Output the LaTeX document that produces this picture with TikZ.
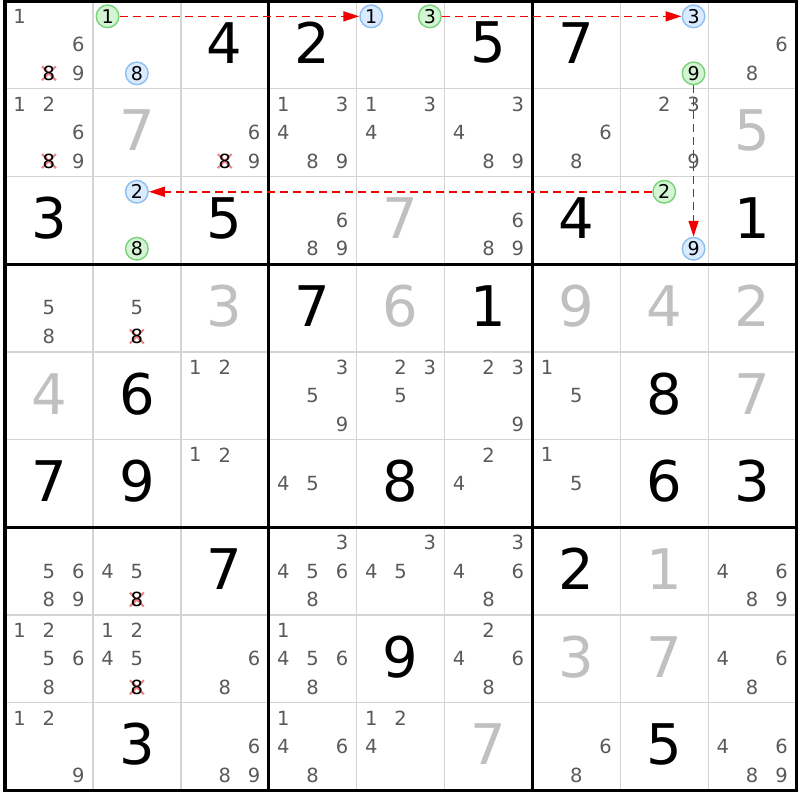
\documentclass[tikz,border=0pt]{standalone}
\usepackage{fontspec}
\setmainfont{DejaVu Sans}
\usetikzlibrary{arrows.meta}
\definecolor{candc}{RGB}{90,90,90}
\definecolor{solvc}{RGB}{192,192,192}
\definecolor{thinc}{RGB}{212,212,212}
\definecolor{gfill}{RGB}{212,245,212}
\definecolor{gdraw}{RGB}{120,210,120}
\definecolor{bfill}{RGB}{218,234,255}
\definecolor{bdraw}{RGB}{140,190,240}
\definecolor{crossc}{RGB}{240,130,130}
\definecolor{linkc}{RGB}{240,0,0}
\newcommand\cellpos[2]{\pgfmathsetmacro\sdx{5+(#2-0.5)*87.9}\pgfmathsetmacro\sdy{1+(#1-0.5)*87.7}}
\newcommand\candpos[3]{\pgfmathsetmacro\sdx{5+(#2-0.5)*87.9+(mod(#3-1,3)-1)*29.3}\pgfmathsetmacro\sdy{1+(#1-0.5)*87.7+(floor((#3-1)/3)-1)*28.5}}
\newcommand\given[3]{\cellpos{#1}{#2}\node[givenst] (v#1#2) at (\sdx,\sdy-2) {#3};}
\newcommand\solved[3]{\cellpos{#1}{#2}\node[solvst] (v#1#2) at (\sdx,\sdy-2) {#3};}
\newcommand\cands[3]{\foreach \dd in {#3}{\candpos{#1}{#2}{\dd}\node[candst] (k#1#2\dd) at (\sdx,\sdy) {\dd};}}
\newcommand\elim[3]{\candpos{#1}{#2}{#3}\draw[crossst] (\sdx-7,\sdy-7) -- (\sdx+7,\sdy+7) (\sdx-7,\sdy+7) -- (\sdx+7,\sdy-7);\node[elimst] (k#1#2#3) at (\sdx,\sdy) {#3};}
\newcommand\circg[3]{\candpos{#1}{#2}{#3}\node[gcirc] (gc#1#2#3) at (\sdx,\sdy) {#3};}
\newcommand\circb[3]{\candpos{#1}{#2}{#3}\node[bcirc] (bc#1#2#3) at (\sdx,\sdy) {#3};}
\begin{document}
\begin{tikzpicture}[x=1pt,y=-1pt,
  givenst/.style={font=\fontsize{56}{56}\selectfont,text=black,inner sep=0pt},
  solvst/.style={font=\fontsize{56}{56}\selectfont,text=solvc,inner sep=0pt},
  candst/.style={font=\fontsize{19.5}{19.5}\selectfont,text=candc,inner sep=0pt},
  elimst/.style={font=\fontsize{19.5}{19.5}\selectfont,text=black,inner sep=0pt},
  crossst/.style={draw=crossc,line width=2pt},
  circbase/.style={circle,line width=1.4pt,minimum size=22.6pt,inner sep=0pt,font=\fontsize{19}{19}\selectfont,text=black},
  gcirc/.style={circbase,draw=gdraw,fill=gfill},
  bcirc/.style={circbase,draw=bdraw,fill=bfill},
  thinst/.style={draw=thinc,line width=1.4pt},
  thickst/.style={draw=black,line width=3.2pt},
  link/.style={draw=linkc,line width=1.6pt,dash pattern=on 8pt off 5pt,-{Triangle[length=16pt,width=10pt]}}]
\useasboundingbox (0,0) rectangle (800,800);
\fill[white] (0,0) rectangle (800,800);
% grid
\foreach \i in {1,2,4,5,7,8}{
  \draw[thinst] ({5+\i*87.9},1) -- ({5+\i*87.9},{1+9*87.7});
  \draw[thinst] (5,{1+\i*87.7}) -- ({5+9*87.9},{1+\i*87.7});
}
\foreach \i in {3,6}{
  \draw[thickst] ({5+\i*87.9},1) -- ({5+\i*87.9},{1+9*87.7});
  \draw[thickst] (5,{1+\i*87.7}) -- ({5+9*87.9},{1+\i*87.7});
}
\draw[thickst] (5,1) rectangle ({5+9*87.9},{1+9*87.7});
% row 1
\cands{1}{1}{1,6,9}\elim{1}{1}{8}
\circg{1}{2}{1}\circb{1}{2}{8}
\given{1}{3}{4}\given{1}{4}{2}
\circb{1}{5}{1}\circg{1}{5}{3}
\given{1}{6}{5}\given{1}{7}{7}
\circb{1}{8}{3}\circg{1}{8}{9}
\cands{1}{9}{6,8}
% row 2
\cands{2}{1}{1,2,6,9}\elim{2}{1}{8}
\solved{2}{2}{7}
\cands{2}{3}{6,9}\elim{2}{3}{8}
\cands{2}{4}{1,3,4,8,9}
\cands{2}{5}{1,3,4}
\cands{2}{6}{3,4,8,9}
\cands{2}{7}{6,8}
\cands{2}{8}{2,3,9}
\solved{2}{9}{5}
% row 3
\given{3}{1}{3}
\circb{3}{2}{2}\circg{3}{2}{8}
\given{3}{3}{5}
\cands{3}{4}{6,8,9}
\solved{3}{5}{7}
\cands{3}{6}{6,8,9}
\given{3}{7}{4}
\circg{3}{8}{2}\circb{3}{8}{9}
\given{3}{9}{1}
% row 4
\cands{4}{1}{5,8}
\cands{4}{2}{5}\elim{4}{2}{8}
\solved{4}{3}{3}\given{4}{4}{7}\solved{4}{5}{6}\given{4}{6}{1}
\solved{4}{7}{9}\solved{4}{8}{4}\solved{4}{9}{2}
% row 5
\solved{5}{1}{4}\given{5}{2}{6}
\cands{5}{3}{1,2}\cands{5}{4}{3,5,9}\cands{5}{5}{2,3,5}\cands{5}{6}{2,3,9}
\cands{5}{7}{1,5}\given{5}{8}{8}\solved{5}{9}{7}
% row 6
\given{6}{1}{7}\given{6}{2}{9}
\cands{6}{3}{1,2}\cands{6}{4}{4,5}\given{6}{5}{8}\cands{6}{6}{2,4}
\cands{6}{7}{1,5}\given{6}{8}{6}\given{6}{9}{3}
% row 7
\cands{7}{1}{5,6,8,9}
\cands{7}{2}{4,5}\elim{7}{2}{8}
\given{7}{3}{7}
\cands{7}{4}{3,4,5,6,8}\cands{7}{5}{3,4,5}\cands{7}{6}{3,4,6,8}
\given{7}{7}{2}\solved{7}{8}{1}\cands{7}{9}{4,6,8,9}
% row 8
\cands{8}{1}{1,2,5,6,8}
\cands{8}{2}{1,2,4,5}\elim{8}{2}{8}
\cands{8}{3}{6,8}\cands{8}{4}{1,4,5,6,8}\given{8}{5}{9}\cands{8}{6}{2,4,6,8}
\solved{8}{7}{3}\solved{8}{8}{7}\cands{8}{9}{4,6,8}
% row 9
\cands{9}{1}{1,2,9}\given{9}{2}{3}\cands{9}{3}{6,8,9}\cands{9}{4}{1,4,6,8}
\cands{9}{5}{1,2,4}\solved{9}{6}{7}\cands{9}{7}{6,8}\given{9}{8}{5}\cands{9}{9}{4,6,8,9}
% links
\draw[link] (gc121) -- (bc151);
\draw[link] (gc153) -- (bc183);
\draw[link] (gc189) -- (bc389);
\draw[link] (gc382) -- (bc322);
\end{tikzpicture}
\end{document}
